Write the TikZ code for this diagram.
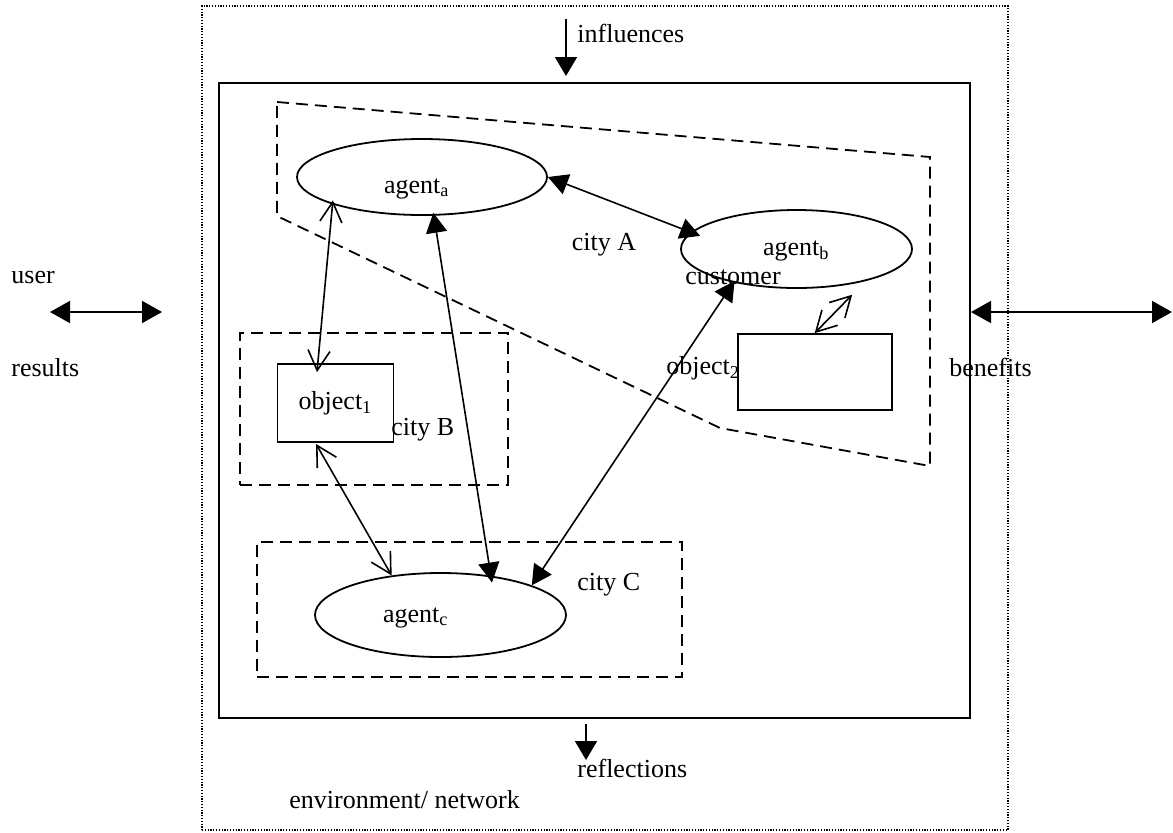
\documentclass[tikz,border=0pt]{standalone}
\usepackage{fontspec}
\setmainfont{Liberation Serif}
\usetikzlibrary{shapes.geometric,arrows.meta}

\tikzset{
  lbl/.style={inner sep=0pt, font=\fontsize{13}{15}\selectfont},
  agentnode/.style={ellipse, draw, line width=0.9pt, inner sep=0pt, text depth=0pt,
    align=left, font=\fontsize{13}{15}\selectfont},
  objbox/.style={rectangle, draw, line width=0.9pt, inner sep=0pt, font=\fontsize{13}{15}\selectfont},
  citybox/.style={rectangle, draw, line width=0.9pt, dash pattern=on 6pt off 3.5pt, inner sep=0pt},
  envbox/.style={rectangle, draw, line width=0.6pt, dash pattern=on 0.6pt off 0.8pt, inner sep=0pt},
  sysbox/.style={rectangle, draw, line width=1pt, inner sep=0pt},
  openlink/.style={line width=0.8pt, {Straight Barb[length=10pt,width=11pt]}-{Straight Barb[length=10pt,width=11pt]}},
  filledlink/.style={line width=0.8pt, {Triangle[length=10pt,width=10.5pt]}-{Triangle[length=10pt,width=10.5pt]}},
  flow/.style={line width=0.9pt, -{Triangle[length=9.5pt,width=11pt]}},
  bothflow/.style={line width=0.9pt, {Triangle[length=10pt,width=11pt]}-{Triangle[length=10pt,width=11pt]}}
}

\begin{document}
\begin{tikzpicture}[x=0.5pt,y=-0.5pt]
\useasboundingbox (0,0) rectangle (1173,832);

% environment and system frames
\node[envbox, minimum width=403pt, minimum height=412pt] (env) at (605,418) {};
\node[sysbox, minimum width=375.5pt, minimum height=317.5pt] (sys) at (594.5,400.5) {};

% city A region
\draw[line width=0.9pt, dash pattern=on 6pt off 3.5pt]
  (277,102) -- (930,157) -- (930,466) -- (720,428) -- (277,216) -- cycle;

% city B and city C regions
\node[citybox, minimum width=134pt, minimum height=76pt] (cityB) at (374,409) {};
\node[citybox, minimum width=212.5pt, minimum height=67.5pt] (cityC) at (469.5,609.5) {};

% agents and objects
\node[agentnode, minimum width=125pt, minimum height=38pt, text height=16pt, text width=38pt]
  (aga) at (422,177) {agent\textsubscript{a}};
\node[agentnode, minimum width=115.5pt, minimum height=39pt, text height=6pt, text width=33.5pt]
  (agb) at (796.5,249) {agent\textsubscript{b}};
\node[agentnode, minimum width=125.5pt, minimum height=42pt, text height=7pt, text width=57.5pt]
  (agc) at (440.5,615) {agent\textsubscript{c}};
\node[objbox, minimum width=58pt, minimum height=39pt] (obj1) at (335.5,403) {object\textsubscript{1}};
\node[objbox, minimum width=77pt, minimum height=38pt] (obj2) at (814.7,372) {};

% labels
\node[lbl, anchor=west] (lInfl) at (577,33) {influences};
\node[lbl, anchor=west] (lRefl) at (577,768) {reflections};
\node[lbl, anchor=west] (lEnv) at (289,800) {environment/ network};
\node[lbl, anchor=west] (lUser) at (11,277) {user};
\node[lbl, anchor=west] (lRes) at (11,368) {results};
\node[lbl, anchor=west] (lBen) at (949,367) {benefits};
\node[lbl] (lCityA) at (604,245) {city A};
\node[lbl] (lCust) at (733,277) {customer};
\node[lbl, anchor=west] (lObj2) at (666,368) {object\textsubscript{2}};
\node[lbl, anchor=west] (lCityB) at (391,430) {city B};
\node[lbl, anchor=west] (lCityC) at (577,585) {city C};

% free ends of the outer arrows
\coordinate (inflTop) at (566,19);
\coordinate (reflEnd) at (586,760);
\coordinate (userL) at (50,312);
\coordinate (userR) at (162,312);
\coordinate (benR) at (1172,312);

% outer flows
\draw[flow, shorten >=3pt] (inflTop) -- (inflTop |- sys.north);
\draw[flow, shorten <=2.5pt] (reflEnd |- sys.south) -- (reflEnd);
\draw[bothflow] (userL) -- (userR);
\draw[bothflow] (benR -| sys.east) -- (benR);

% links between agents and objects
\draw[openlink, shorten <=-2pt] (aga.197.6) -- ([shift={(-18.5,9)}]obj1.north);
\draw[openlink] ([shift={(-19.5,1)}]obj1.south) -- (agc.141);
\draw[filledlink, shorten <=-1.5pt, shorten >=-3.5pt] (aga.287.6) -- (agc.38.7);
\draw[filledlink, shorten >=-5pt] (aga.0) -- (agb.171.6);
\draw[filledlink, shorten <=-1pt] (agb.208.5) -- (agc.18.5);
\draw[openlink, shorten >=9.5pt] (obj2.north) -- (agb.335.8);
\end{tikzpicture}
\end{document}
